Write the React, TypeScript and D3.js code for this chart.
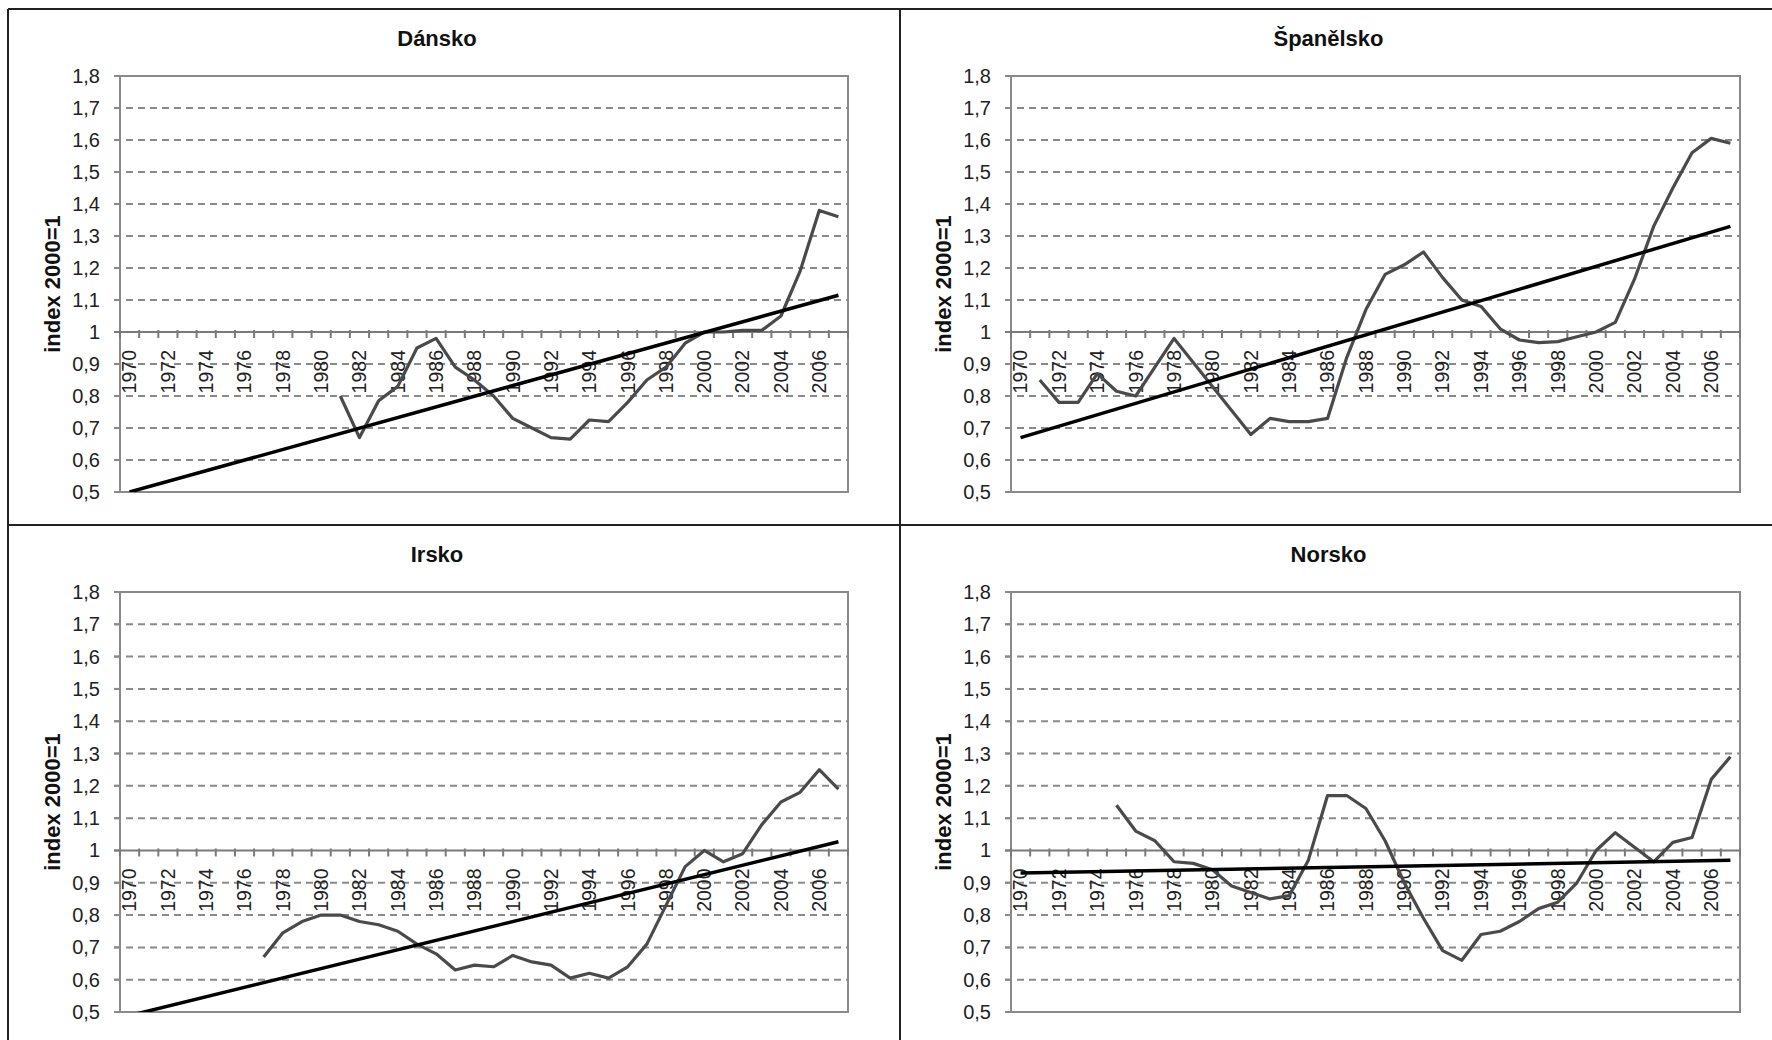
import React from "react";
import * as d3 from "d3";

// categories: one per year, labels on every second year
const years: number[] = d3.range(1970, 2008);
const yTicks = [0.5, 0.6, 0.7, 0.8, 0.9, 1, 1.1, 1.2, 1.3, 1.4, 1.5, 1.6, 1.7, 1.8];

// Dánsko (from 1981)
const danskoStart = 1981;
const danskoValues = [
  0.8, 0.67, 0.785, 0.83, 0.95, 0.98, 0.89, 0.85, 0.8, 0.73, 0.7, 0.67, 0.665, 0.725,
  0.72, 0.78, 0.85, 0.89, 0.965, 1.0, 1.0, 1.005, 1.005, 1.05, 1.19, 1.38, 1.36,
];
const danskoTrend = [0.5, 1.115];

// Španělsko (from 1971)
const spanelskoStart = 1971;
const spanelskoValues = [
  0.85, 0.78, 0.78, 0.87, 0.815, 0.8, 0.89, 0.98, 0.905, 0.83, 0.755, 0.68, 0.73, 0.72,
  0.72, 0.73, 0.92, 1.07, 1.18, 1.21, 1.25, 1.17, 1.1, 1.08, 1.01, 0.975, 0.967, 0.97,
  0.985, 1.0, 1.03, 1.165, 1.33, 1.45, 1.56, 1.605, 1.59,
];
const spanelskoTrend = [0.67, 1.33];

// Irsko (from 1977)
const irskoStart = 1977;
const irskoValues = [
  0.67, 0.745, 0.78, 0.8, 0.8, 0.78, 0.77, 0.75, 0.71, 0.68, 0.63, 0.645, 0.64, 0.675,
  0.655, 0.645, 0.605, 0.62, 0.605, 0.64, 0.71, 0.83, 0.95, 1.0, 0.965, 0.99, 1.08,
  1.15, 1.18, 1.25, 1.19,
];
const irskoTrend = [0.489, 1.027];

// Norsko (from 1975)
const norskoStart = 1975;
const norskoValues = [
  1.14, 1.06, 1.03, 0.965, 0.96, 0.94, 0.89, 0.87, 0.85, 0.86, 0.97, 1.17, 1.17, 1.13,
  1.03, 0.9, 0.79, 0.69, 0.66, 0.74, 0.75, 0.78, 0.82, 0.84, 0.9, 1.0, 1.055, 1.01,
  0.965, 1.025, 1.04, 1.22, 1.29,
];
const norskoTrend = [0.93, 0.97];

const font = "'Liberation Sans', Arial, sans-serif";

type PanelProps = {
  id: string;
  name: string;
  start: number;
  values: number[];
  trend: number[];
  left: number;
  top: number;
  width: number;
  height: number;
};

const fmt = (v: number) => (v === 1 ? "1" : d3.format(".1f")(v).replace(".", ","));

const Panel = ({ id, name, start, values, trend, left, top, width, height }: PanelProps) => {
  const x = d3.scaleBand<number>().domain(years).range([left, left + width]);
  const y = d3.scaleLinear().domain([0.5, 1.8]).range([top + height, top]);
  const bw = x.bandwidth();
  const cx = (yr: number) => (x(yr) as number) + bw / 2;

  const pts: [number, number][] = values.map((v, i) => [start + i, v]);
  const trendPts: [number, number][] = [
    [years[0], trend[0]],
    [years[years.length - 1], trend[1]],
  ];
  const line = d3
    .line<[number, number]>()
    .x((d) => cx(d[0]))
    .y((d) => y(d[1]));

  const y1 = y(1);

  return (
    <g>
      <clipPath id={`clip-${id}`}>
        <rect x={left} y={top} width={width} height={height} />
      </clipPath>

      {/* gridlines + y ticks */}
      {yTicks
        .filter((t) => t !== 1 && t !== 0.5 && t !== 1.8)
        .map((t) => (
          <line
            key={t}
            x1={left - 6}
            x2={left + width}
            y1={y(t)}
            y2={y(t)}
            stroke="#8a8a8a"
            strokeWidth={2}
            strokeDasharray="7,5"
          />
        ))}
      {yTicks.map((t) => (
        <g key={"t" + t}>
          <line x1={left - 6} x2={left} y1={y(t)} y2={y(t)} stroke="#8a8a8a" strokeWidth={2} />
          <text
            x={left - 20}
            y={y(t)}
            dy="0.35em"
            textAnchor="end"
            fontFamily={font}
            fontSize={20}
            fill="#222"
          >
            {fmt(t)}
          </text>
        </g>
      ))}

      {/* plot border */}
      <rect x={left} y={top} width={width} height={height} fill="none" stroke="#8a8a8a" strokeWidth={2} />

      {/* category axis crossing at 1 */}
      <line x1={left - 6} x2={left + width} y1={y1} y2={y1} stroke="#7a7a7a" strokeWidth={2} />
      {years.concat([years[years.length - 1] + 1]).map((yr, i) => {
        const xx = i < years.length ? (x(yr) as number) : left + width;
        return <line key={"xt" + yr} x1={xx} x2={xx} y1={y1 - 2} y2={y1 + 6} stroke="#7a7a7a" strokeWidth={2} />;
      })}
      {years
        .filter((yr) => (yr - years[0]) % 2 === 0)
        .map((yr) => (
          <text
            key={"xl" + yr}
            transform={`translate(${cx(yr)},${y1 + 18}) rotate(-90)`}
            dy="0.35em"
            textAnchor="end"
            fontFamily={font}
            fontSize={19.5}
            fill="#222"
          >
            {yr}
          </text>
        ))}

      {/* series */}
      <path d={line(pts) ?? ""} fill="none" stroke="#4a4a4a" strokeWidth={3.2} strokeLinejoin="round" />
      {/* linear trend */}
      <path
        d={line(trendPts) ?? ""}
        fill="none"
        stroke="#000"
        strokeWidth={3.5}
        clipPath={`url(#clip-${id})`}
      />

      {/* titles */}
      <text
        x={left + width / 2 - 47}
        y={top - 30}
        textAnchor="middle"
        fontFamily={font}
        fontWeight="bold"
        fontSize={22}
        fill="#111"
      >
        {name}
      </text>
      <text
        transform={`translate(${left - 60},${top + height / 2}) rotate(-90)`}
        textAnchor="middle"
        fontFamily={font}
        fontWeight="bold"
        fontSize={22}
        fill="#111"
      >
        index 2000=1
      </text>
    </g>
  );
};

const App = () => {
  const W = 1772;
  const H = 1040;
  const colL = { left: 120, width: 728 };
  const colR = { left: 1011, width: 729 };
  const rowT = { top: 76, height: 416 };
  const rowB = { top: 592, height: 420 };

  return (
    <svg
      width={W}
      height={H}
      style={{ position: "absolute", left: 0, top: 0, background: "#fff" }}
    >
      <rect x={0} y={0} width={W} height={H} fill="#fff" />
      {/* frame */}
      <line x1={8} x2={W} y1={9} y2={9} stroke="#222" strokeWidth={2} />
      <line x1={8} x2={8} y1={9} y2={H} stroke="#222" strokeWidth={2} />
      <line x1={900} x2={900} y1={9} y2={H} stroke="#222" strokeWidth={2} />
      <line x1={8} x2={W} y1={525} y2={525} stroke="#222" strokeWidth={2} />

      <Panel id="dk" name="Dánsko" start={danskoStart} values={danskoValues} trend={danskoTrend} {...colL} {...rowT} />
      <Panel id="es" name="Španělsko" start={spanelskoStart} values={spanelskoValues} trend={spanelskoTrend} {...colR} {...rowT} />
      <Panel id="ie" name="Irsko" start={irskoStart} values={irskoValues} trend={irskoTrend} {...colL} {...rowB} />
      <Panel id="no" name="Norsko" start={norskoStart} values={norskoValues} trend={norskoTrend} {...colR} {...rowB} />
    </svg>
  );
};

export default App;
